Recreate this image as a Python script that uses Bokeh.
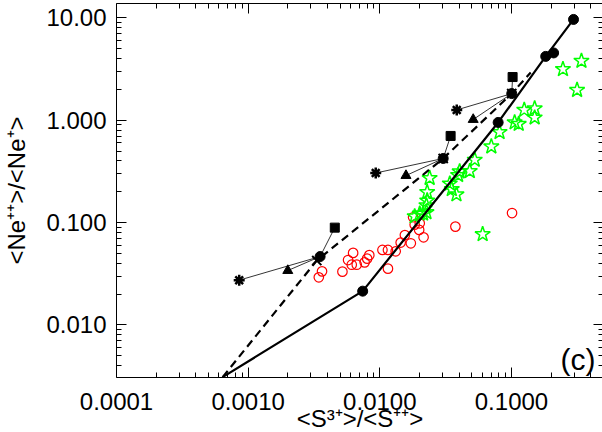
from bokeh.plotting import figure
from bokeh.models import LogAxis, FixedTicker, Label
from bokeh.embed import file_html
from bokeh.resources import INLINE

# ---------------- data ----------------
# solid model sequence (filled circles joined by a thick line)
solid_line_x = [0.00064, 0.00741, 0.0792, 0.182, 0.296]
solid_line_y = [0.0031, 0.0214, 0.951, 4.20, 9.64]
solid_pts_x = [0.00741, 0.0792, 0.182, 0.209, 0.296]
solid_pts_y = [0.0214, 0.951, 4.20, 4.54, 9.64]

# dashed model sequence (crosses on a dashed line)
dash_line_x = [0.00064, 0.00332, 0.0303, 0.1005, 0.140]
dash_line_y = [0.0031, 0.0426, 0.423, 1.82, 2.93]
cross_x = [0.00332, 0.0303, 0.1005]
cross_y = [0.0426, 0.423, 1.82]

# three model groups: centre (filled circle) and variants
centre_x = [0.00352, 0.0303, 0.1005]
centre_y = [0.0466, 0.423, 1.82]
asterisk_x = [0.000855, 0.00931, 0.0384]
asterisk_y = [0.0274, 0.305, 1.26]
triangle_x = [0.0020, 0.0158, 0.0512]
triangle_y = [0.0340, 0.288, 1.016]
square_x = [0.00455, 0.0345, 0.102]
square_y = [0.0893, 0.702, 2.64]

# observed objects, sample 1 (red open circles)
red_x = [0.00344, 0.00364, 0.00520, 0.00574, 0.00627, 0.00612, 0.00668, 0.00767,
         0.00801, 0.00832, 0.01047, 0.01153, 0.0132, 0.01153, 0.0144, 0.0155,
         0.0172, 0.0179, 0.0184, 0.0201, 0.0199, 0.0215, 0.0375, 0.101]
red_y = [0.0292, 0.0334, 0.0332, 0.0431, 0.0506, 0.0388, 0.0388, 0.0409,
         0.0445, 0.0481, 0.0541, 0.0541, 0.0524, 0.0355, 0.0638, 0.0755,
         0.0628, 0.1128, 0.0955, 0.0984, 0.0849, 0.0718, 0.0914, 0.124]

# observed objects, sample 2 (green open stars)
green_x = [0.340, 0.246, 0.315, 0.150, 0.125, 0.150, 0.1057, 0.1135, 0.0812,
           0.0703, 0.0526, 0.0482, 0.0404, 0.0393, 0.0340, 0.0352, 0.0382,
           0.0239, 0.0229, 0.0229, 0.0226, 0.0226, 0.0201, 0.0184, 0.0213, 0.0604]
green_y = [3.79, 3.15, 1.97, 1.30, 1.26, 1.06, 0.951, 0.918, 0.764,
           0.553, 0.410, 0.318, 0.315, 0.291, 0.240, 0.212, 0.188,
           0.272, 0.198, 0.164, 0.147, 0.126, 0.122, 0.115, 0.122, 0.0769]

x_ticks = [1e-4, 1e-3, 1e-2, 1e-1]
x_tick_labels = ["0.0001", "0.0010", "0.0100", "0.1000"]
y_ticks = [0.01, 0.1, 1.0, 10.0]
y_tick_labels = ["0.010", "0.100", "1.000", "10.00"]

x_title = "<S\u00b3\u207a>/<S\u207a\u207a>"
y_title = "<Ne\u207a\u207a>/<Ne\u207a>"
panel_tag = "(c)"
panel_tag_x = 0.4345
panel_tag_y = 0.00464

# ---------------- figure ----------------
FONT = "Liberation Sans"
X_START, X_END = 1e-4, 0.5
Y_START, Y_END = 0.00307, 13.8

p = figure(frame_width=487, frame_height=374,
           x_axis_type="log", y_axis_type="log",
           x_range=(X_START, X_END), y_range=(Y_START, Y_END),
           output_backend="svg", toolbar_location=None,
           min_border_left=112, min_border_right=0,
           min_border_top=3, min_border_bottom=55)
p.background_fill_color = "white"
p.border_fill_color = "white"
p.outline_line_color = None
p.xgrid.visible = False
p.ygrid.visible = False


def minors(lo_exp, hi_exp):
    out = []
    for e in range(lo_exp, hi_exp + 1):
        for m in range(2, 10):
            out.append(m * 10.0 ** e)
    return out


x_ticker = FixedTicker(ticks=x_ticks, minor_ticks=minors(-4, -1))
y_ticker = FixedTicker(ticks=y_ticks, minor_ticks=minors(-3, 1))


def style(ax):
    ax.axis_line_color = "black"
    ax.axis_line_width = 1
    ax.major_tick_in = 10
    ax.major_tick_out = 0
    ax.minor_tick_in = 5
    ax.minor_tick_out = 0
    ax.major_tick_line_color = "black"
    ax.minor_tick_line_color = "black"
    ax.major_label_text_font = FONT
    ax.major_label_text_font_size = "24px"
    ax.major_label_text_color = "black"
    ax.axis_label_text_font = FONT
    ax.axis_label_text_font_size = "24px"
    ax.axis_label_text_font_style = "normal"
    ax.axis_label_text_color = "black"


xa = p.xaxis[0]
xa.ticker = x_ticker
style(xa)
xa.major_label_overrides = dict(zip(x_ticks, x_tick_labels))
xa.major_label_standoff = 15
xa.axis_label = x_title
xa.axis_label_standoff = -8

ya = p.yaxis[0]
ya.ticker = y_ticker
style(ya)
ya.major_label_overrides = dict(zip(y_ticks, y_tick_labels))
ya.major_label_standoff = 10
ya.axis_label = y_title
ya.axis_label_standoff = 13

top = LogAxis(ticker=x_ticker)
style(top)
top.major_label_text_font_size = "1px"
top.major_label_text_alpha = 0
top.major_label_standoff = 0
p.add_layout(top, "above")

right = LogAxis(ticker=y_ticker)
style(right)
right.major_label_text_font_size = "1px"
right.major_label_text_alpha = 0
right.major_label_standoff = 0
p.add_layout(right, "right")

# ---------------- glyphs ----------------
p.scatter(red_x, red_y, marker="circle", size=9.5, fill_color=None,
          line_color="#ff0000", line_width=1.2)
p.scatter(green_x, green_y, marker="star", size=16, fill_color=None,
          line_color="#00ff00", line_width=1.5)

p.line(solid_line_x, solid_line_y, line_color="black", line_width=2.2)
p.line(dash_line_x, dash_line_y, line_color="black", line_width=2.2,
       line_dash="8 5")

seg_x0 = asterisk_x + triangle_x + square_x
seg_y0 = asterisk_y + triangle_y + square_y
seg_x1 = centre_x * 3
seg_y1 = centre_y * 3
p.segment(seg_x0, seg_y0, seg_x1, seg_y1, line_color="black", line_width=0.8)

p.scatter(solid_pts_x, solid_pts_y, marker="circle", size=10,
          fill_color="black", line_color="black")
p.scatter(centre_x, centre_y, marker="circle", size=10,
          fill_color="black", line_color="black")
p.scatter(cross_x, cross_y, marker="x", size=13, line_color="black",
          line_width=2)
p.scatter(asterisk_x, asterisk_y, marker="asterisk", size=11,
          line_color="black", line_width=2.5)
p.scatter(triangle_x, triangle_y, marker="triangle", size=10,
          fill_color="black", line_color="black")
p.scatter(square_x, square_y, marker="square", size=9,
          fill_color="black", line_color="black")

# ---------------- panel tag ----------------
p.add_layout(Label(x=panel_tag_x, y=panel_tag_y,
                   text=panel_tag, text_align="right",
                   text_baseline="middle", text_font=FONT,
                   text_font_size="30px", text_color="black"))

open("out.html", "w").write(file_html(p, INLINE))
